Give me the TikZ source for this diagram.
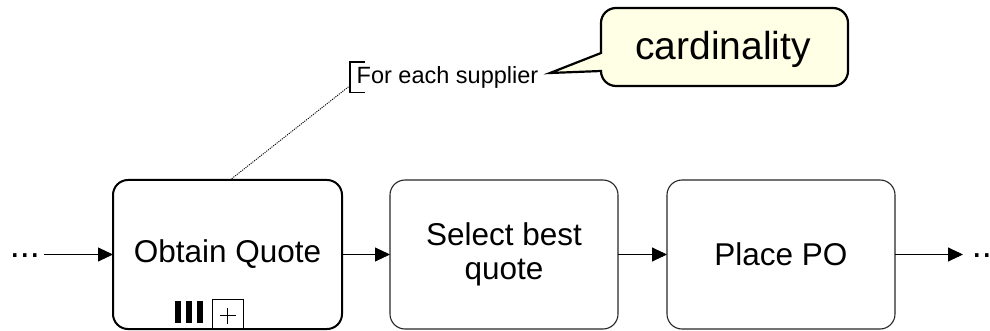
\documentclass[tikz,border=0pt]{standalone}
\usepackage{fontspec}
\setmainfont{Liberation Sans}
\usetikzlibrary{arrows.meta}
\definecolor{notefill}{RGB}{255,255,229}
\tikzset{
  task/.style={draw=black!85, line width=1.1pt, rounded corners=15pt,
    minimum width=228pt, minimum height=149pt, inner sep=0pt, outer sep=0pt,
    align=center, font=\fontsize{31.5}{34}\selectfont},
  flow/.style={-{Triangle[length=15pt,width=14pt]}, line width=0.9pt},
  dots/.style={inner xsep=4pt, inner ysep=0pt, outer sep=0pt,
    font=\fontsize{36}{36}\selectfont},
  assoc/.style={dash pattern=on 1.1pt off 1.1pt, line width=0.9pt},
  callout/.style={draw, line width=2.2pt, fill=notefill, line join=miter}
}
\begin{document}
\begin{tikzpicture}[x=1pt,y=-1pt]
\useasboundingbox (0,0) rectangle (990,331);

% tasks
\node[task, line width=2pt, draw=black, minimum width=229pt] (obtain) at (227.5,254.5) {Obtain Quote};
\node[task] (select) at (504,254.5) {Select best\\quote};
\node[task] (place) at (781,254.5) {Place PO};

% loose ends of the flow
\node[dots, anchor=base west] (dotsL) at (5.8,257.5) {...};
\node[dots, inner xsep=8.8pt, anchor=base west] (dotsR) at (963,257.5) {...};

% sequence flows
\draw[flow] (dotsL.east |- obtain.west) -- (obtain.west);
\draw[flow] (obtain.east) -- (select.west);
\draw[flow] (select.east) -- (place.west);
\draw[flow] (place.east) -- (place.east -| dotsR.west);

% multi-instance and sub-process markers
\node[draw, line width=1pt, minimum width=31pt, minimum height=29pt, inner sep=0pt, anchor=south] (sub) at (obtain.south) {};
\draw[line width=1.2pt] ([xshift=-8pt,yshift=-1.5pt]sub.center) -- ([xshift=8pt,yshift=-1.5pt]sub.center);
\draw[line width=1.2pt] ([yshift=6.5pt]sub.center) -- ([yshift=-9.5pt]sub.center);
\fill (175,301) rectangle (181,323);
\fill (186,301) rectangle (192,323);
\fill (197,301) rectangle (203,323);

% text annotation
\node[anchor=west, inner sep=0pt, font=\fontsize{23.5}{23.5}\selectfont] (note) at (356.5,77.5) {For each supplier};
\draw[line width=1.1pt] (365,62) -- (350,62) -- (350,92.5) -- (365,92.5);
\coordinate (notefoot) at (349.5,86);
\draw[assoc] ([xshift=2.5pt]obtain.north) -- (notefoot);

% callout
\draw[callout] (550,73) -- (601,53) -- (601,23)
  .. controls (601,14.7) and (607.7,8) .. (616,8) -- (833,8)
  .. controls (841.3,8) and (848,14.7) .. (848,23) -- (848,71)
  .. controls (848,79.3) and (841.3,86) .. (833,86) -- (616,86)
  .. controls (607.7,86) and (601,79.3) .. (601,71) -- cycle;
\node[anchor=base, inner sep=0pt, font=\fontsize{39}{39}\selectfont] (card) at (723,60) {cardinality};
\end{tikzpicture}
\end{document}
